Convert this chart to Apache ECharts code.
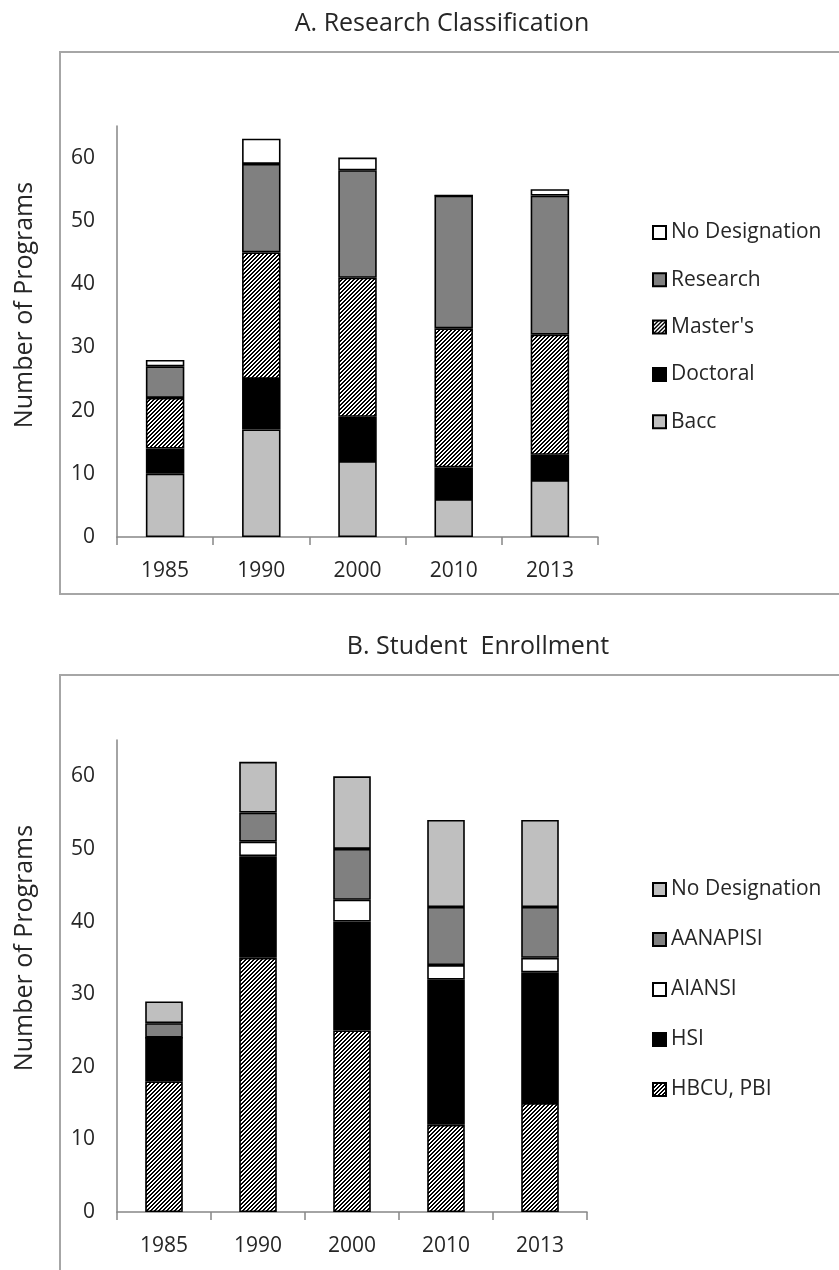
<!DOCTYPE html>
<html>
<head>
<meta charset="utf-8">
<script src="https://cdn.jsdelivr.net/npm/echarts@6/dist/echarts.min.js"></script>
<style>
html,body{margin:0;padding:0;background:#fff;}
#chart{width:839px;height:1270px;}
</style>
</head>
<body>
<div id="chart"></div>
<script>
// ---- Data ----
const categories = ['1985', '1990', '2000', '2010', '2013'];
const yTicks = [0, 10, 20, 30, 40, 50, 60];

// Panel A: Research Classification (stack order bottom -> top)
const baccA = [10, 17, 12, 6, 9];
const doctoralA = [4, 8, 7, 5, 4];
const mastersA = [8, 20, 22, 22, 19];
const researchA = [5, 14, 17, 21, 22];
const noDesigA = [1, 4, 2, 0, 1];

// Panel B: Student Enrollment (stack order bottom -> top)
const hbcuB = [18, 35, 25, 12, 15];
const hsiB = [6, 14, 15, 20, 18];
const aiansiB = [0, 2, 3, 2, 2];
const aanapisiB = [2, 4, 7, 8, 7];
const noDesigB = [3, 7, 10, 12, 12];

// ---- Hatch pattern ----
function makeHatch() {
  const c = document.createElement('canvas');
  c.width = 4; c.height = 4;
  const ctx = c.getContext('2d');
  const img = ctx.createImageData(4, 4);
  for (let y = 0; y < 4; y++) {
    for (let x = 0; x < 4; x++) {
      const i = (y * 4 + x) * 4;
      const black = ((x + y) % 4) < 2;
      const v = black ? 0 : 255;
      img.data[i] = v; img.data[i + 1] = v; img.data[i + 2] = v; img.data[i + 3] = 255;
    }
  }
  ctx.putImageData(img, 0, 0);
  return c;
}
const hatch = { image: makeHatch(), repeat: 'repeat' };

const FONT = '"Open Sans", "DejaVu Sans", sans-serif';
const TXT = '#262626';
const AXIS = '#868686';

function bar(name, data, color, idx, stack) {
  return {
    type: 'bar', name: name, data: data, stack: stack,
    xAxisIndex: idx, yAxisIndex: idx, barWidth: '40%',
    itemStyle: { color: color, borderColor: '#000', borderWidth: 1.6 },
    emphasis: { disabled: true }, animation: false
  };
}

function xAxis(idx) {
  return {
    type: 'category', gridIndex: idx, data: categories,
    axisLine: { lineStyle: { color: AXIS, width: 1.5 } },
    axisTick: { show: true, length: 8, lineStyle: { color: AXIS, width: 1.5 } },
    axisLabel: { color: TXT, fontFamily: FONT, fontSize: 21, margin: 24 }
  };
}
function yAxis(idx) {
  return {
    type: 'value', gridIndex: idx, min: 0, max: 65, interval: 10,
    axisLine: { show: true, lineStyle: { color: AXIS, width: 1.5 } },
    axisTick: { show: false },
    splitLine: { show: false },
    axisLabel: {
      color: TXT, fontFamily: FONT, fontSize: 21, margin: 22,
      formatter: function (v) { return yTicks.indexOf(v) >= 0 ? String(v) : ''; }
    }
  };
}

function legend(names, top, gap) {
  return {
    orient: 'vertical', left: 647, top: top, itemGap: gap,
    itemWidth: 13, itemHeight: 13, icon: 'rect',
    data: names,
    textStyle: { color: TXT, fontFamily: FONT, fontSize: 21 },
    selectedMode: false
  };
}

const chart = echarts.init(document.getElementById('chart'), null, { renderer: 'canvas' });
chart.setOption({
  animation: false,
  backgroundColor: '#fff',
  grid: [
    { left: 117, width: 481, top: 126, height: 411 },
    { left: 117, width: 470, top: 740, height: 472 }
  ],
  xAxis: [xAxis(0), xAxis(1)],
  yAxis: [yAxis(0), yAxis(1)],
  legend: [
    legend(['No Designation', 'Research', "Master's", 'Doctoral', 'Bacc'], 217, 26.3),
    legend(['No Designation ', 'AANAPISI', 'AIANSI', 'HSI', 'HBCU, PBI'], 874, 29)
  ],
  graphic: [
    { type: 'rect', shape: { x: 60, y: 52, width: 800, height: 542 }, style: { fill: 'none', stroke: '#a6a6a6', lineWidth: 2 }, z: -1 },
    { type: 'rect', shape: { x: 60, y: 675, width: 800, height: 640 }, style: { fill: 'none', stroke: '#a6a6a6', lineWidth: 2 }, z: -1 },
    { type: 'text', x: 442, y: 24, style: { text: 'A. Research Classification', font: '25px ' + FONT, fill: TXT, textAlign: 'center', textVerticalAlign: 'middle' } },
    { type: 'text', x: 478, y: 647, style: { text: 'B. Student  Enrollment', font: '25px ' + FONT, fill: TXT, textAlign: 'center', textVerticalAlign: 'middle' } },
    { type: 'text', x: 25, y: 305, rotation: Math.PI / 2, style: { text: 'Number of Programs', font: '25px ' + FONT, fill: TXT, textAlign: 'center', textVerticalAlign: 'middle' } },
    { type: 'text', x: 25, y: 948, rotation: Math.PI / 2, style: { text: 'Number of Programs', font: '25px ' + FONT, fill: TXT, textAlign: 'center', textVerticalAlign: 'middle' } }
  ],
  series: [
    bar('Bacc', baccA, '#bfbfbf', 0, 'A'),
    bar('Doctoral', doctoralA, '#000000', 0, 'A'),
    bar("Master's", mastersA, hatch, 0, 'A'),
    bar('Research', researchA, '#808080', 0, 'A'),
    bar('No Designation', noDesigA, '#ffffff', 0, 'A'),
    bar('HBCU, PBI', hbcuB, hatch, 1, 'B'),
    bar('HSI', hsiB, '#000000', 1, 'B'),
    bar('AIANSI', aiansiB, '#ffffff', 1, 'B'),
    bar('AANAPISI', aanapisiB, '#808080', 1, 'B'),
    bar('No Designation ', noDesigB, '#bfbfbf', 1, 'B')
  ]
});
</script>
</body>
</html>
